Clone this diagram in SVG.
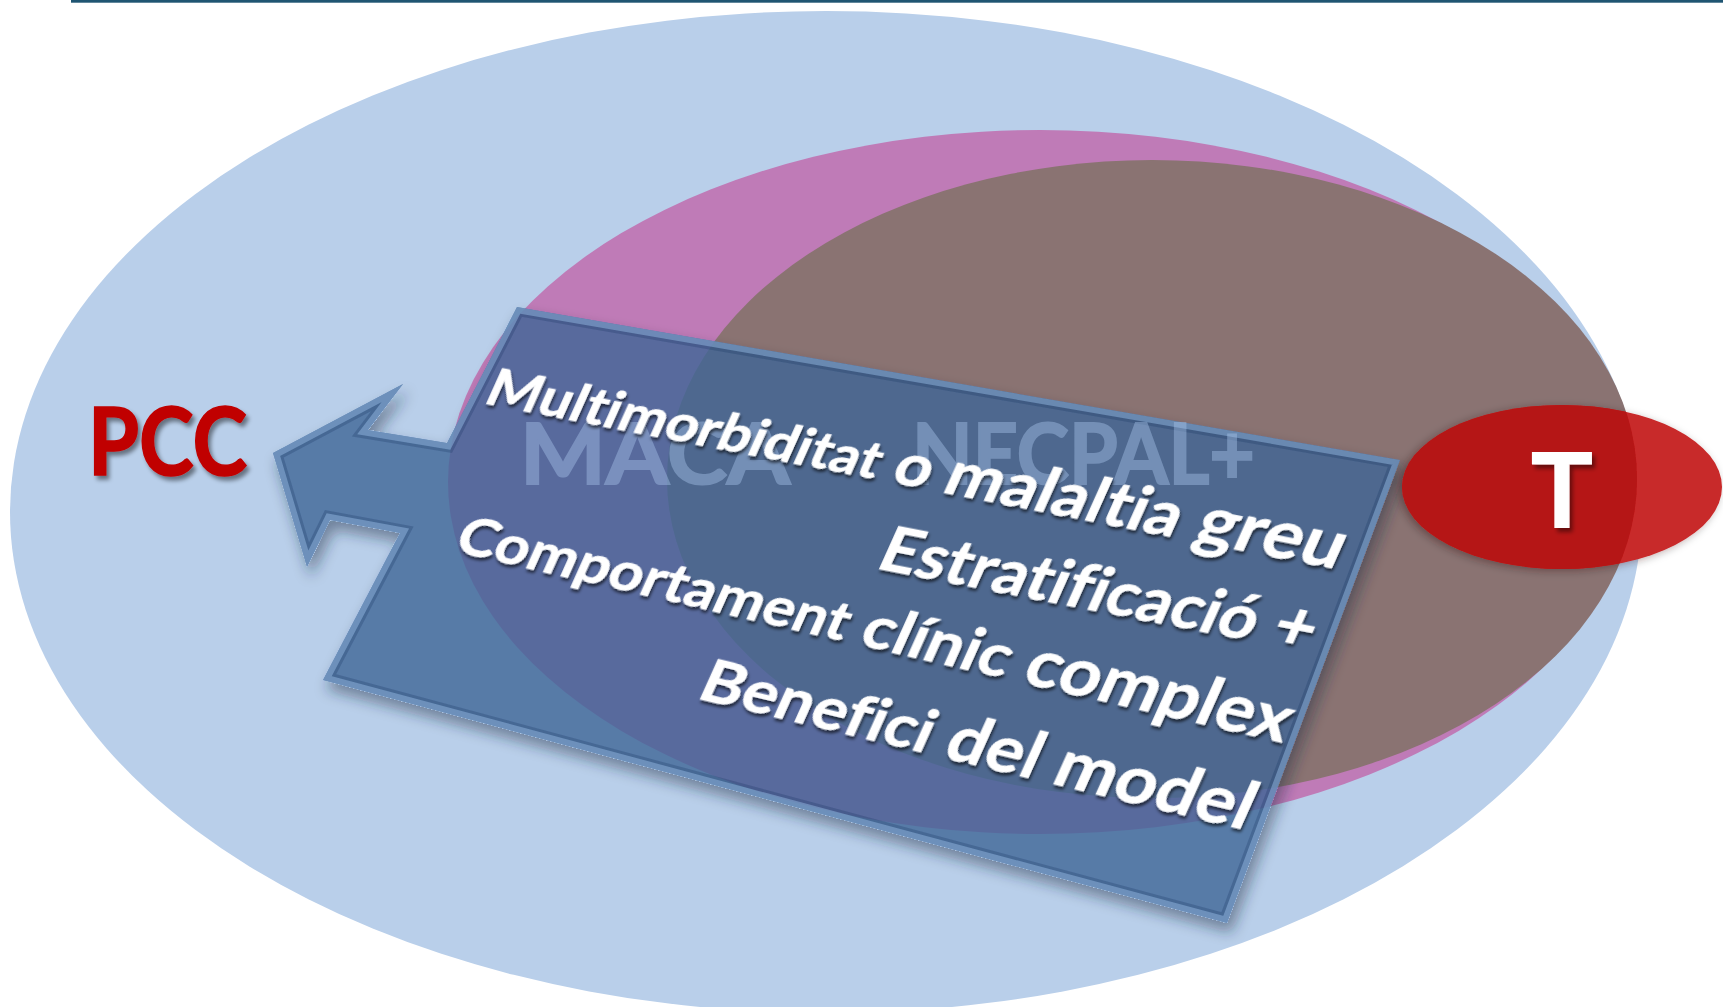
<svg xmlns="http://www.w3.org/2000/svg" width="1723" height="1007" viewBox="0 0 1723 1007">
  <defs>
    <style>
      .lbl { font-family: Lato, "Open Sans", "Liberation Sans", sans-serif; font-weight: bold; font-variant-ligatures: none; font-feature-settings: "liga" 0, "clig" 0; }
      .line { fill: #ffffff; stroke: #ffffff; stroke-width: 0.6; stroke-linejoin: round; filter: url(#txtShadow); }
      .ghost { fill: #a9c6ec; stroke: #a9c6ec; stroke-width: 2; }
      .red { fill: #c00000; stroke: #c00000; stroke-width: 1.6; }
    </style>
    <filter id="txtShadow" x="-10%" y="-30%" width="120%" height="170%">
      <feDropShadow dx="2" dy="3" stdDeviation="1.6" flood-color="#000" flood-opacity="0.6"/>
    </filter>
    <filter id="redShadow" x="-10%" y="-20%" width="130%" height="150%">
      <feDropShadow dx="3" dy="4" stdDeviation="2" flood-color="#000" flood-opacity="0.45"/>
    </filter>
    <filter id="boxShadow" x="-10%" y="-10%" width="130%" height="140%">
      <feComponentTransfer in="SourceAlpha" result="solid"><feFuncA type="linear" slope="10"/></feComponentTransfer>
      <feGaussianBlur in="solid" stdDeviation="7" result="b0"/>
      <feOffset in="b0" dx="4" dy="9" result="blur"/>
      <feFlood flood-color="#1a2a40" flood-opacity="0.45"/>
      <feComposite in2="blur" operator="in"/>
      <feComposite in2="solid" operator="out" result="sh"/>
      <feMerge><feMergeNode in="sh"/><feMergeNode in="SourceGraphic"/></feMerge>
    </filter>
    <filter id="ellShadow" x="-20%" y="-30%" width="140%" height="160%">
      <feDropShadow dx="-3" dy="2" stdDeviation="4" flood-color="#2a0000" flood-opacity="0.35"/>
    </filter>
    <polygon id="boxShape" points="517,307 1400,460 1227,923 323,680 400,533 330,520 307,567 273,453 403,384 368,430 447,443"/>
    <clipPath id="boxClip"><use href="#boxShape"/></clipPath>
    <clipPath id="brownClip"><ellipse cx="1152" cy="479" rx="485" ry="319"/></clipPath>
  </defs>

  <rect width="1723" height="1007" fill="#ffffff"/>
  <rect id="topRule" x="71" y="0" width="1652" height="2.7" fill="#1f5572"/>

  <g id="node-pcc-area">
    <ellipse cx="826" cy="512" rx="816" ry="501" fill="#b9cfea"/>
  </g>
  <g id="node-maca-area">
    <ellipse cx="1040" cy="482" rx="592" ry="352" fill="#bf7bb7"/>
  </g>
  <g id="node-necpal-area">
    <ellipse cx="1152" cy="479" rx="485" ry="319" fill="#8a7372"/>
  </g>

  <g id="connectors">
    <g id="node-criteria-arrow" filter="url(#boxShadow)">
      <use href="#boxShape" fill="#3e6597" fill-opacity="0.8"/>
      <g clip-path="url(#boxClip)">
        <use href="#boxShape" fill="none" stroke="#13335c" stroke-opacity="0.25" stroke-width="18" stroke-linejoin="miter"/>
        <use href="#boxShape" fill="none" stroke="#9cc0ec" stroke-opacity="0.45" stroke-width="12" stroke-linejoin="miter"/>
      </g>
    </g>
  </g>

  <g id="node-t">
    <g filter="url(#ellShadow)">
      <ellipse cx="1562" cy="487" rx="160" ry="82" fill="#c8292a"/>
      <ellipse cx="1562" cy="487" rx="160" ry="82" fill="#b51313" clip-path="url(#brownClip)"/>
    </g>
    <text class="lbl" x="1562" y="527" font-size="103" text-anchor="middle" fill="#ffffff" stroke="#ffffff" stroke-width="1.2" filter="url(#redShadow)">T</text>
  </g>

  <g id="node-labels" opacity="0.42">
    <text class="lbl ghost" x="520" y="484" font-size="85" textLength="270" lengthAdjust="spacingAndGlyphs">MACA</text>
    <text class="lbl ghost" x="912" y="484" font-size="85" textLength="343" lengthAdjust="spacingAndGlyphs">NECPAL+</text>
  </g>

  <g id="node-criteria-text" class="lbl">
    <text class="line" textLength="870" lengthAdjust="spacingAndGlyphs" transform="matrix(0.9816,0.1908,-0.41,0.912,482,403)"><tspan font-size="54">Multimorbiditat</tspan><tspan font-size="61"> o </tspan><tspan font-size="65">malaltia</tspan><tspan font-size="71"> greu</tspan></text>
    <text class="line" textLength="441" lengthAdjust="spacingAndGlyphs" transform="matrix(0.9816,0.1908,-0.41,0.912,874,568)"><tspan font-size="65">Estratificació</tspan><tspan font-size="70"> +</tspan></text>
    <text class="line" textLength="852" lengthAdjust="spacingAndGlyphs" transform="matrix(0.9744,0.2250,-0.41,0.912,452,551)"><tspan font-size="56">Comportament</tspan><tspan font-size="62"> clínic</tspan><tspan font-size="68"> complex</tspan></text>
    <text class="line" textLength="565" lengthAdjust="spacingAndGlyphs" transform="matrix(0.9724,0.2334,-0.41,0.912,695,698)"><tspan font-size="62">Benefici</tspan><tspan font-size="66"> del</tspan><tspan font-size="69"> model</tspan></text>
  </g>

  <g id="node-pcc">
    <text class="lbl red" x="88" y="475" font-size="94" textLength="159" lengthAdjust="spacingAndGlyphs" filter="url(#redShadow)">PCC</text>
  </g>
</svg>
